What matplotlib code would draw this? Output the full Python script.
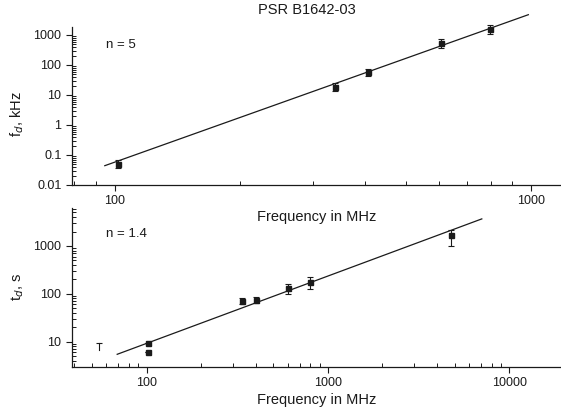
import matplotlib
matplotlib.use("Agg")
import matplotlib.pyplot as plt
import numpy as np
from matplotlib.ticker import LogLocator, FixedLocator, FixedFormatter, NullFormatter

plt.rcParams['font.family'] = ['Liberation Sans', 'DejaVu Sans']

# Top panel: decorrelation bandwidth f_d (kHz)
fd_freq = [102, 338, 405, 606, 795]
fd_val = [0.05, 19, 57, 525, 1585]
fd_lo = [0.036, 13.9, 44, 378, 1080]
fd_hi = [0.068, 24.5, 72, 735, 2155]
fd_fit_freq = [94.6, 985]
fd_fit_val = [0.044, 4750]

# Bottom panel: decorrelation time t_d (s)
td_freq = [102, 102, 338, 400, 603, 795, 4790]
td_val = [9.25, 6.1, 72, 76, 134, 178, 1675]
td_lo = [9.25, 6.1, 60.5, 64.7, 100, 127, 1015]
td_hi = [9.25, 6.1, 81, 86.5, 164, 223, 2160]
td_lim_freq = [55]
td_lim_lo = [6.7]
td_lim_hi = [9.2]
td_fit_freq = [68.9, 7060]
td_fit_val = [5.45, 3670]

ink = "#1a1a1a"

fig = plt.figure(figsize=(5.61, 4.19), dpi=100)
ax1 = fig.add_axes([0.1283, 0.5585, 0.8717, 0.3771])
ax2 = fig.add_axes([0.1283, 0.1248, 0.8717, 0.3788])
ax1.patch.set_visible(False)
ax2.patch.set_visible(False)


def style(ax):
    ax.set_xscale("log")
    ax.set_yscale("log")
    ax.spines["top"].set_visible(False)
    ax.spines["right"].set_visible(False)
    for s in ["left", "bottom"]:
        ax.spines[s].set_linewidth(0.9)
        ax.spines[s].set_color(ink)
    ax.tick_params(which="major", direction="out", length=4, width=0.8,
                   labelsize=9, colors=ink)
    ax.tick_params(which="minor", direction="in", length=3, width=0.7, colors=ink)
    ax.yaxis.set_minor_locator(LogLocator(base=10, subs=np.arange(2, 10), numticks=20))
    ax.yaxis.set_minor_formatter(NullFormatter())
    ax.xaxis.set_minor_locator(LogLocator(base=10, subs=np.arange(2, 10), numticks=20))
    ax.xaxis.set_minor_formatter(NullFormatter())


def errs(val, lo, hi):
    v = np.array(val)
    return [v - np.array(lo), np.array(hi) - v]


# Graph 1 ------------------------------
style(ax1)
ax1.plot(fd_fit_freq, fd_fit_val, color=ink, lw=0.9, clip_on=False)
ax1.errorbar(fd_freq, fd_val, yerr=errs(fd_val, fd_lo, fd_hi), fmt="s", ms=3.6,
             color=ink, ecolor=ink, elinewidth=0.8, capsize=2.2, capthick=0.8,
             clip_on=False)
ax1.set_xlim(78.9, 1180)
ax1.set_ylim(0.01, 1850)
ax1.xaxis.set_major_locator(FixedLocator([100, 1000]))
ax1.xaxis.set_major_formatter(FixedFormatter(["100", "1000"]))
yt1 = [0.01, 0.1, 1, 10, 100, 1000]
ax1.yaxis.set_major_locator(FixedLocator(yt1))
ax1.yaxis.set_major_formatter(FixedFormatter(["0.01", "0.1", "1", "10", "100", "1000"]))
ax1.set_xlabel("Frequency in MHz", fontsize=10.5, color=ink, labelpad=2)
ax1.set_ylabel(r"f$_{d}$, kHz", fontsize=10.5, color=ink)
ax1.yaxis.set_label_coords(-0.095, 0.45)
ax1.text(0.07, 0.87, "n = 5", transform=ax1.transAxes, fontsize=9.5, color=ink)

# Graph 2 ------------------------------
style(ax2)
ax2.plot(td_fit_freq, td_fit_val, color=ink, lw=0.9)
ax2.errorbar(td_freq, td_val, yerr=errs(td_val, td_lo, td_hi), fmt="s", ms=3.6,
             color=ink, ecolor=ink, elinewidth=0.8, capsize=2.2, capthick=0.8)
for f, lo, hi in zip(td_lim_freq, td_lim_lo, td_lim_hi):
    ax2.plot([f, f], [lo, hi], color=ink, lw=0.8)
    ax2.plot([f], [hi], marker="_", ms=4, mew=0.8, color=ink)
ax2.set_xlim(38.8, 19300)
ax2.set_ylim(3.0, 6200)
ax2.xaxis.set_major_locator(FixedLocator([100, 1000, 10000]))
ax2.xaxis.set_major_formatter(FixedFormatter(["100", "1000", "10000"]))
ax2.yaxis.set_major_locator(FixedLocator([10, 100, 1000]))
ax2.yaxis.set_major_formatter(FixedFormatter(["10", "100", "1000"]))
ax2.set_xlabel("Frequency in MHz", fontsize=10.5, color=ink, labelpad=3)
ax2.set_ylabel(r"t$_{d}$, s", fontsize=10.5, color=ink)
ax2.yaxis.set_label_coords(-0.095, 0.5)
ax2.text(0.07, 0.82, "n = 1.4", transform=ax2.transAxes, fontsize=9.5, color=ink)

fig.text(0.547, 0.975, "PSR B1642-03", ha="center", va="center", fontsize=10.5, color=ink)

fig.savefig("out.png", dpi=100)
